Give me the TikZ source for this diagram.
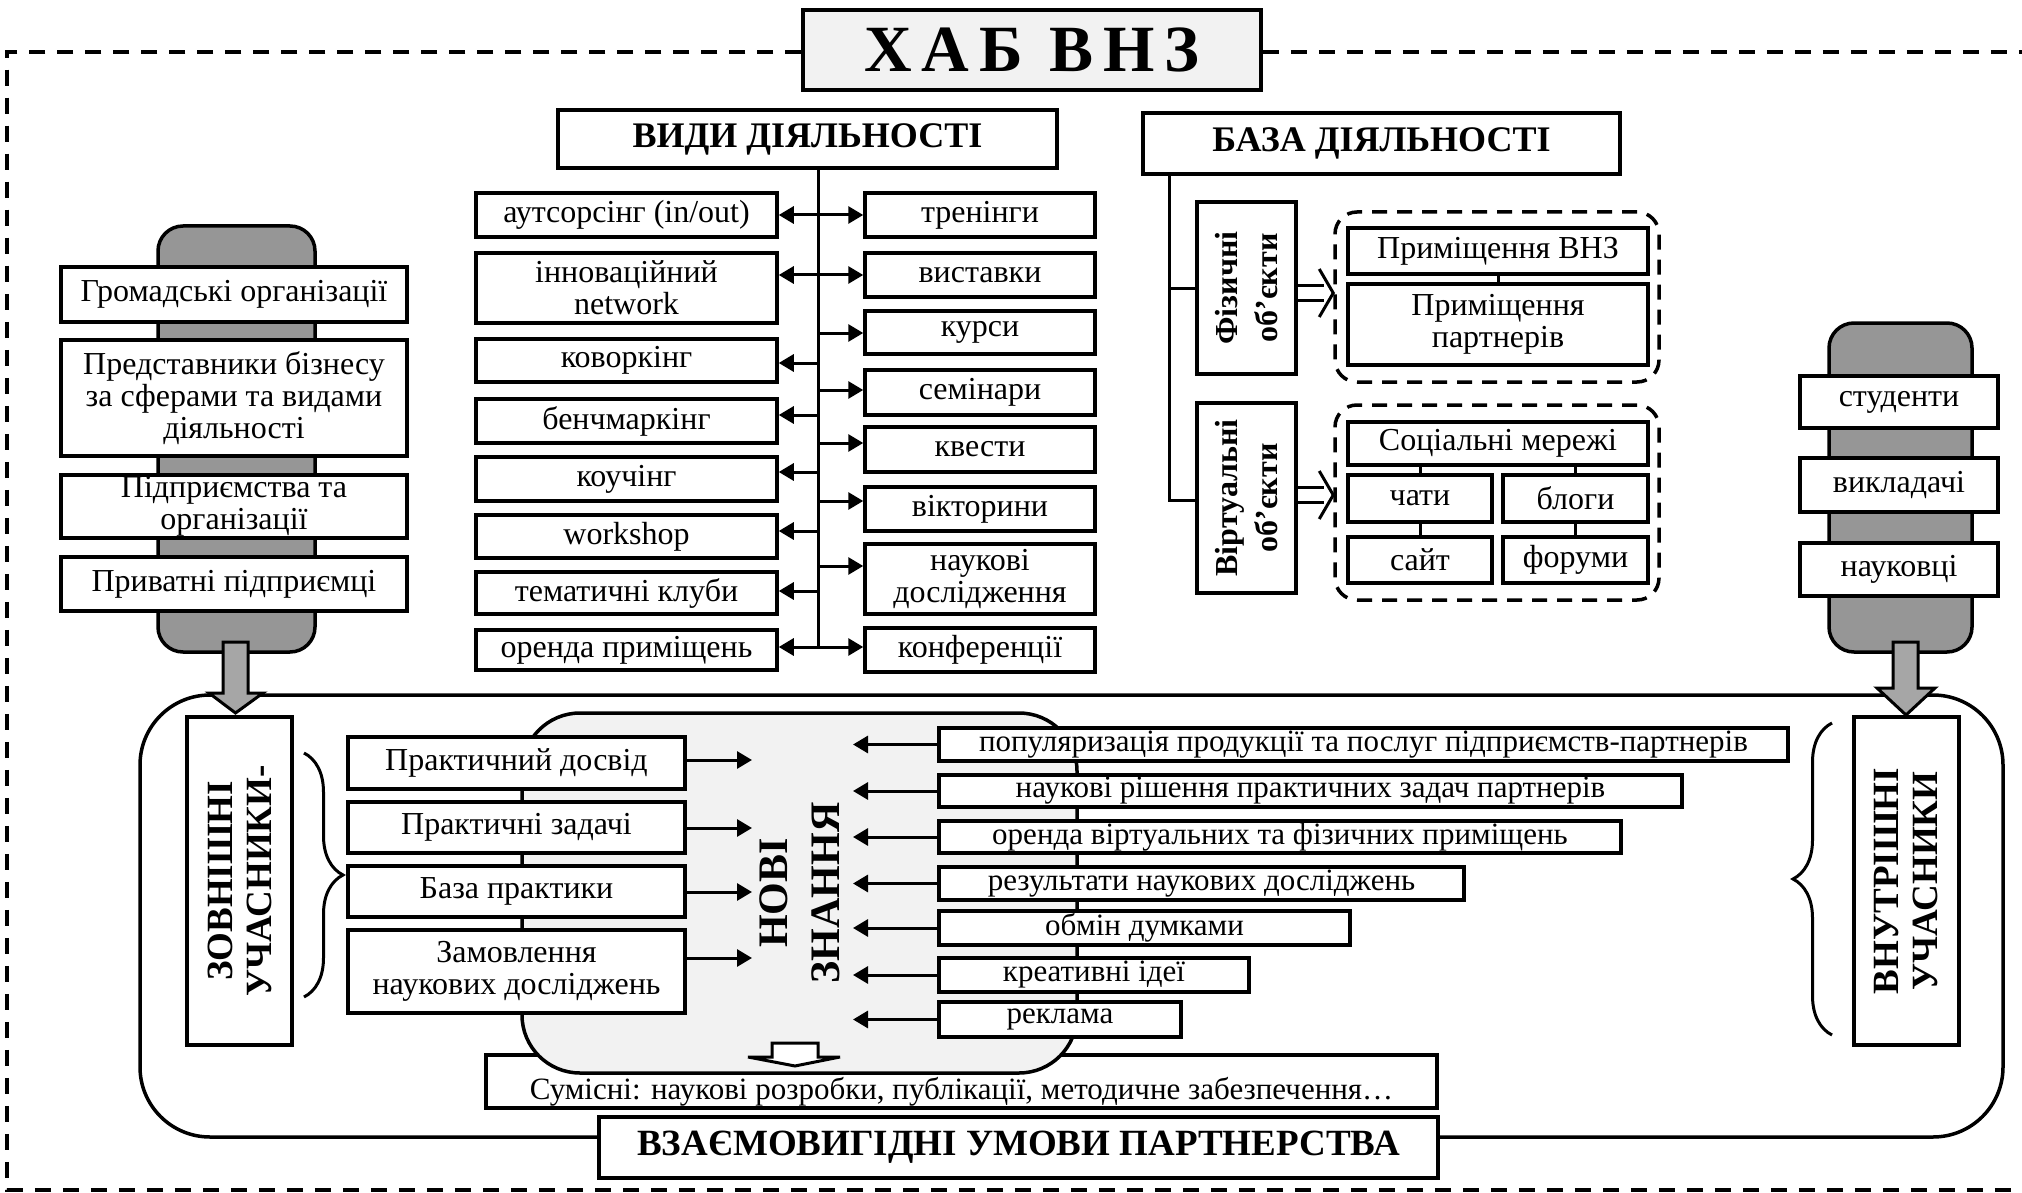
\documentclass[tikz,border=0pt]{standalone}
\usepackage{fontspec}
\setmainfont{Liberation Serif}
\usetikzlibrary{arrows.meta,decorations.pathreplacing,calc}
\newcommand\FS[2]{\fontsize{#1}{#2}\selectfont}
\newcommand\Bx[7][]{\node[box,#1,minimum width={#4-#2},minimum height={#5-#3}] (#6) at ({(#2+#4)/2},{(#3+#5)/2}) {#7};}
\definecolor{pillgray}{RGB}{150,150,150}
\definecolor{arrgray}{RGB}{166,166,166}
\definecolor{lightbg}{RGB}{242,242,242}
\begin{document}
\begin{tikzpicture}[x=1pt,y=-1pt,
 box/.style={draw, line width=3.5pt, fill=white, inner sep=0pt, align=center, font=\FS{32}{32}},
 hd/.style={font=\bfseries\FS{36}{36}},
 con/.style={line width=3pt},
 arr/.style={con, -{Triangle[length=15pt,width=17pt]}},
 arrb/.style={con, {Triangle[length=15pt,width=17pt]}-{Triangle[length=15pt,width=17pt]}},
 dbl/.style={line width=3pt, double=white, double distance=12pt},
 grp/.style={draw, dash pattern=on 15pt off 10pt, line width=3.5pt, rounded corners=22pt, inner sep=0pt},
 pill/.style={draw, line width=3.5pt, rounded corners=25pt, fill=pillgray, inner sep=0pt},
 garr/.style={draw, line width=3pt, fill=arrgray},
 vbox/.style={box, rotate=90, font=\bfseries\FS{37}{39}},
 odash/.style={line width=4pt, dash pattern=on 16pt off 12pt},
 brc/.style={line width=3pt, decorate, decoration={brace, amplitude=39pt}},
]
\useasboundingbox (0,0) rectangle (2022,1193);

% ---- outer frame and title
\node[draw, line width=3.5pt, fill=lightbg, minimum width=458, minimum height=80, inner sep=0pt,
      font=\bfseries\FS{66}{66}\addfontfeature{LetterSpace=15}] (title) at (1032,50) {ХАБ ВНЗ};
\coordinate (tl) at (7,52);
\coordinate (bl) at (7,1190);
\coordinate (br) at (2022,1190);
\coordinate (tr) at (2022,52);
\draw[odash] (tl -| title.west) -- (tl) -- (bl) -- (br);
\draw[odash] (tl -| title.east) -- (tr);

% ---- activities
\Bx[hd]{558}{110}{1057}{168}{vid}{ВИДИ ДІЯЛЬНОСТІ}
\Bx[hd]{1143}{113}{1620}{174}{baza}{БАЗА ДІЯЛЬНОСТІ}

\Bx{476}{193}{777}{237}{aut}{аутсорсінг (in/out)}
\Bx{476}{253}{777}{323}{inn}{інноваційний\\network}
\Bx{476}{339}{777}{382}{kov}{коворкінг}
\Bx{476}{399}{777}{443}{ben}{бенчмаркінг}
\Bx{476}{457}{777}{501}{kou}{коучінг}
\Bx{476}{515}{777}{558}{wor}{workshop}
\Bx{476}{572}{777}{614}{tem}{тематичні клуби}
\Bx{476}{630}{777}{670}{ore}{оренда приміщень}

\Bx{865}{193}{1095}{237}{tre}{тренінги}
\Bx{865}{253}{1095}{297}{vys}{виставки}
\Bx{865}{311}{1095}{354}{kur}{курси}
\Bx{865}{370}{1095}{415}{sem}{семінари}
\Bx{865}{427}{1095}{472}{kve}{квести}
\Bx{865}{487}{1095}{531}{vik}{вікторини}
\Bx{865}{544}{1095}{614}{nau}{наукові\\дослідження}
\Bx{865}{628}{1095}{672}{kon}{конференції}

\coordinate (tb) at (818,647);
\draw[con] (tb |- vid.south) -- (tb);
\draw[arrb] (aut.east) -- (tre.west);
\draw[arrb] (vys.west -| inn.east) -- (vys.west);
\foreach \n/\y in {kov/363, ben/415, kou/472, wor/531, tem/591, ore/647}{
  \coordinate (c\n) at (818,\y);
  \draw[arr] (c\n) -- (c\n -| \n.east);
}
\foreach \n/\y in {kur/333, sem/390, kve/443, vik/501, nau/566, kon/647}{
  \coordinate (c\n) at (818,\y);
  \draw[arr] (c\n) -- (c\n -| \n.west);
}

% ---- base of activity
\node[box, rotate=90, font=\bfseries\FS{32}{40}, minimum width=172, minimum height=99] (fiz) at (1246.5,288) {Фізичні\\об’єкти};
\node[box, rotate=90, font=\bfseries\FS{32}{40}, minimum width=190, minimum height=99] (virt) at (1246.5,498) {Віртуальні\\об’єкти};
\coordinate (bb) at (1169,500);
\draw[con] (bb |- baza.south) -- (bb) -- (bb -| virt.north);
\draw[con] (bb |- fiz.north) -- (fiz.north);

\node[grp, minimum width=324, minimum height=170] (fizg) at (1497,297) {};
\node[grp, minimum width=324, minimum height=195] (virg) at (1497,502.5) {};
\coordinate (ftip) at ($(fiz.south -| fizg.west)+(0,5)$);
\coordinate (vtip) at ($(virt.south -| virg.west)+(0,-3)$);
\draw[dbl] (ftip -| fiz.south) -- ($(ftip)+(-9,0)$);
\draw[con] ($(ftip)+(-14,-24)$) -- (ftip) -- ($(ftip)+(-14,24)$);
\draw[dbl] (vtip -| virt.south) -- ($(vtip)+(-9,0)$);
\draw[con] ($(vtip)+(-14,-24)$) -- (vtip) -- ($(vtip)+(-14,24)$);

\Bx{1348}{228}{1648}{274}{pv}{Приміщення ВНЗ}
\Bx{1348}{284}{1648}{365}{pp}{Приміщення\\партнерів}
\draw[con] (pv.south) -- (pp.north);
\Bx{1348}{422}{1648}{465}{sm}{Соціальні мережі}
\Bx{1348}{475}{1492}{522}{ch}{чати}
\Bx{1503}{475}{1648}{522}{bl}{блоги}
\Bx{1348}{537}{1492}{583}{sa}{сайт}
\Bx{1503}{537}{1648}{583}{fo}{форуми}
\draw[con] (ch.north) -- (ch.north |- sm.south);
\draw[con] (bl.north) -- (bl.north |- sm.south);
\draw[con] (ch.south) -- (sa.north);
\draw[con] (bl.south) -- (fo.north);

% ---- participants (pills)
\node[pill, minimum width=157, minimum height=426] (lpill) at (236.5,439) {};
\node[pill, minimum width=143, minimum height=329] (rpill) at (1900.5,487.5) {};
\Bx{61}{267}{407}{322}{gro}{Громадські організації}
\Bx{61}{340}{407}{456}{pre}{Представники бізнесу\\за сферами та видами\\діяльності}
\Bx{61}{475}{407}{538}{pid}{Підприємства та\\організації}
\Bx{61}{557}{407}{611}{pry}{Приватні підприємці}
\Bx{1800}{376}{1998}{428}{stu}{студенти}
\Bx{1800}{458}{1998}{512}{vyk}{викладачі}
\Bx{1800}{543}{1998}{596}{nkv}{науковці}

% ---- lower frame
\node[draw, line width=3.5pt, rounded corners=70pt, minimum width=1863, minimum height=442, inner sep=0pt] (frame) at (1071.5,916) {};
\draw[garr] (223,642) -- (248,642) -- (248,693) -- (263,693) -- (235.5,713) -- (209,693) -- (223,693) -- cycle;
\draw[garr] (1893,642) -- (1918,642) -- (1918,688) -- (1935,688) -- (1906,715) -- (1877,688) -- (1893,688) -- cycle;

\Bx[font=\FS{31}{31}]{486}{1055}{1437}{1108}{sum}{\raisebox{-18pt}[0pt][0pt]{Сумісні: наукові розробки, публікації, методичне забезпечення…}}

\node[draw, line width=3.5pt, fill=lightbg, rounded corners=58pt, rotate=90, minimum width=360, minimum height=555,
      inner sep=0pt, align=center, font=\bfseries\FS{42}{52}] (nz) at (799.5,893) {НОВІ\\ЗНАННЯ};

\Bx{348}{737}{685}{789}{pd}{Практичний досвід}
\Bx{348}{802}{685}{853}{pz}{Практичні задачі}
\Bx{348}{866}{685}{917}{bp}{База практики}
\Bx{348}{930}{685}{1013}{zn}{Замовлення\\наукових досліджень}
\foreach \n/\y in {pd/760, pz/828, bp/892, zn/958}{
  \coordinate (a\n) at (752,\y);
  \draw[arr] (a\n -| \n.east) -- (a\n);
}

\Bx[font=\FS{31}{31}]{939}{728}{1788}{761}{r1}{популяризація продукції та послуг підприємств-партнерів}
\Bx[font=\FS{31}{31}]{939}{775}{1682}{807}{r2}{наукові рішення практичних задач партнерів}
\Bx[font=\FS{31}{31}]{939}{821}{1621}{853}{r3}{оренда віртуальних та фізичних приміщень}
\Bx[font=\FS{31}{31}]{939}{867}{1464}{900}{r4}{результати наукових досліджень}
\Bx[font=\FS{31}{31}]{939}{911}{1350}{945}{r5}{обмін думками}
\Bx[font=\FS{31}{31}]{939}{958}{1249}{992}{r6}{креативні ідеї}
\Bx[font=\FS{31}{31}]{939}{1002}{1181}{1037}{r7}{реклама}
\coordinate (nzr) at (853,893);
\foreach \n in {r1,r2,r3,r4,r5,r6,r7}{
  \draw[arr] (\n.west) -- (\n.west -| nzr);
}

\draw[line width=3pt, fill=white] (772,1043) -- (818,1043) -- (818,1057) -- (840,1057) -- (795,1066) -- (748,1057) -- (772,1057) -- cycle;

\node[vbox, minimum width=328, minimum height=105] (zov) at (239.5,881) {ЗОВНІШНІ\\УЧАСНИКИ-};
\node[vbox, minimum width=328, minimum height=105] (vnu) at (1906.5,881) {ВНУТРІШНІ\\УЧАСНИКИ};
\coordinate (lb1) at (304,753);
\coordinate (lb2) at (304,997);
\draw[brc] (lb1) -- (lb2);
\coordinate (rb1) at (1832,1035);
\coordinate (rb2) at (1832,723);
\draw[brc] (rb1) -- (rb2);

\Bx[font=\bfseries\FS{37}{37}]{599}{1117}{1438}{1178}{vza}{ВЗАЄМОВИГІДНІ УМОВИ ПАРТНЕРСТВА}
\end{tikzpicture}
\end{document}
